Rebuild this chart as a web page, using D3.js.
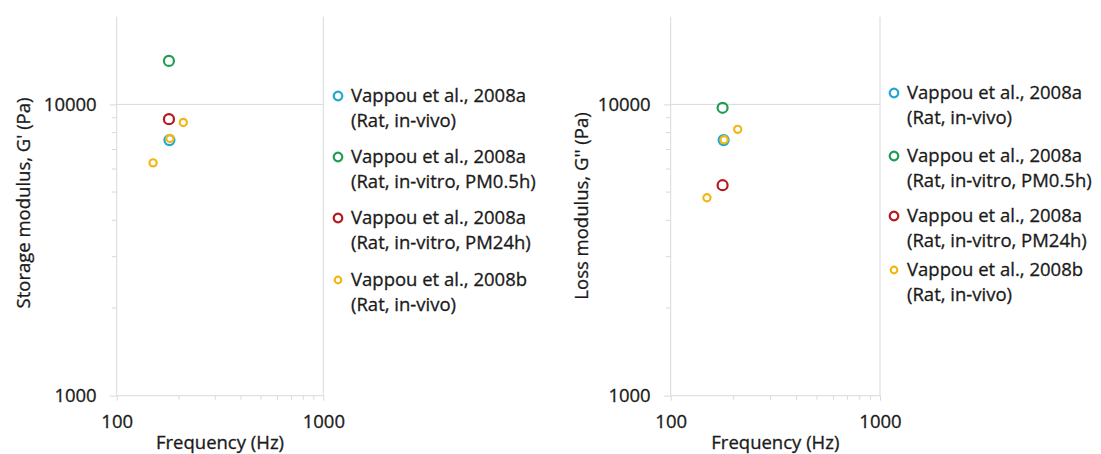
<!DOCTYPE html>
<html>
<head>
<meta charset="utf-8">
<script src="https://cdn.jsdelivr.net/npm/d3@7"></script>
<style>
    body { margin: 0; background: #fff; }
    svg text { font-family: 'Open Sans', sans-serif; fill: #1a1a1a; stroke: #1a1a1a; stroke-width: 0.3px; }
</style>
</head>
<body>
<div class="chart"></div>
<script>
const seriesLabels = [
    ['Vappou et al., 2008a', '(Rat, in-vivo)'],
    ['Vappou et al., 2008a', '(Rat, in-vitro, PM0.5h)'],
    ['Vappou et al., 2008a', '(Rat, in-vitro, PM24h)'],
    ['Vappou et al., 2008b', '(Rat, in-vivo)']
];
const seriesColors = ['#22a7d3', '#1f9d55', '#b3191e', '#f2b717'];
const markerRadius = [5, 5, 5, 3.6];

// [frequency Hz, modulus Pa]
const storageInVivoA = [[180, 7540]];
const storageInVitro05 = [[179, 14100]];
const storageInVitro24 = [[179, 8900]];
const storageInVivoB = [[150, 6300], [181, 7640], [210, 8670]];

const lossInVivoA = [[179, 7540]];
const lossInVitro05 = [[177, 9735]];
const lossInVitro24 = [[177, 5280]];
const lossInVivoB = [[149, 4780], [180, 7560], [209, 8210]];

const xTicks = [100, 1000];
const yTicks = [1000, 10000];
const xMinor = [200, 300, 400, 500, 600, 700, 800, 900];
const yMinor = [2000, 3000, 4000, 5000, 6000, 7000, 8000, 9000];

const width = 1101;
const height = 454;
const gridColor = '#d9d9d9';
const fontSize = '18.5px';

const svg = d3.select('.chart')
    .append('svg')
    .attr('width', width)
    .attr('height', height);

function drawPanel(cfg) {
    const x = d3.scaleLog().domain([100, 1000]).range([cfg.left, cfg.right]);
    const y = d3.scaleLog().domain([1000, 20000]).range([395.7, 16.7]);
    const g = svg.append('g');

    // gridlines
    g.selectAll('.hgrid')
        .data([10000])
        .enter()
        .append('line')
        .attr('x1', cfg.left)
        .attr('x2', cfg.right)
        .attr('y1', d => y(d))
        .attr('y2', d => y(d))
        .attr('stroke', gridColor);

    g.append('line')
        .attr('x1', x(1000)).attr('x2', x(1000))
        .attr('y1', y(20000)).attr('y2', y(1000))
        .attr('stroke', gridColor);

    const yAxis = d3.axisLeft(y)
        .tickValues(yTicks)
        .tickFormat(d3.format('d'))
        .tickSize(7)
        .tickPadding(13);
    const yAx = g.append('g')
        .attr('transform', `translate(${cfg.left},0)`)
        .call(yAxis);

    const xAxis = d3.axisBottom(x)
        .tickValues(xTicks)
        .tickFormat(d3.format('d'))
        .tickSize(5)
        .tickPadding(14);
    const xAx = g.append('g')
        .attr('transform', `translate(0,${y(1000)})`)
        .call(xAxis);

    [yAx, xAx].forEach(ax => {
        ax.select('.domain').attr('stroke', gridColor);
        ax.selectAll('.tick line').attr('stroke', gridColor);
        ax.selectAll('.tick text')
            .attr('fill', '#1a1a1a')
            .style('font-size', fontSize)
            .style('font-family', "'Open Sans', sans-serif");
    });
    yAx.select('.domain').attr('d', `M0,${y(20000)}V${y(1000)}`);
    xAx.select('.domain').attr('d', `M${cfg.left},0H${cfg.right}`);

    g.selectAll('.yminor')
        .data(yMinor)
        .enter()
        .append('line')
        .attr('x1', cfg.left - 5)
        .attr('x2', cfg.left)
        .attr('y1', d => y(d))
        .attr('y2', d => y(d))
        .attr('stroke', gridColor);

    g.selectAll('.xminor')
        .data(xMinor)
        .enter()
        .append('line')
        .attr('x1', d => x(d))
        .attr('x2', d => x(d))
        .attr('y1', y(1000))
        .attr('y2', y(1000) + 4)
        .attr('stroke', gridColor);

    // axis titles
    g.append('text')
        .attr('x', (cfg.left + cfg.right) / 2)
        .attr('y', 448.5)
        .attr('text-anchor', 'middle')
        .style('font-size', fontSize)
        .text('Frequency (Hz)');

    g.append('text')
        .attr('transform', `translate(${cfg.yLabelX},${cfg.yLabelY}) rotate(-90)`)
        .attr('text-anchor', 'middle')
        .attr('dy', '0.35em')
        .style('font-size', fontSize)
        .text(cfg.yLabel);

    // points
    cfg.series.forEach((pts, i) => {
        g.selectAll(`.s${i}`)
            .data(pts)
            .enter()
            .append('circle')
            .attr('cx', d => x(d[0]))
            .attr('cy', d => y(d[1]))
            .attr('r', markerRadius[i])
            .attr('fill', 'none')
            .attr('stroke', seriesColors[i])
            .attr('stroke-width', 2.2);
    });

    // legend
    const leg = g.append('g')
        .selectAll('g')
        .data(seriesLabels)
        .enter()
        .append('g')
        .attr('transform', (d, i) => `translate(${cfg.legendX},${cfg.legendY[i]})`);

    leg.append('circle')
        .attr('cx', 0)
        .attr('cy', 0)
        .attr('r', (d, i) => i === 3 ? 3.3 : 4.3)
        .attr('fill', 'none')
        .attr('stroke', (d, i) => seriesColors[i])
        .attr('stroke-width', 2.2);

    const txt = leg.append('text')
        .attr('x', 13)
        .attr('y', 0)
        .style('font-size', fontSize);
    txt.append('tspan')
        .attr('x', 13)
        .attr('dy', '0.35em')
        .text(d => d[0]);
    txt.append('tspan')
        .attr('x', 13)
        .attr('dy', '1.35em')
        .text(d => d[1]);
}

drawPanel({
    left: 116.7,
    right: 323.3,
    yLabelX: 24,
    yLabelY: 203,
    yLabel: "Storage modulus, G' (Pa)",
    legendX: 338,
    legendY: [96, 157, 218, 280],
    series: [storageInVivoA, storageInVitro05, storageInVitro24, storageInVivoB]
});

drawPanel({
    left: 670.7,
    right: 880,
    yLabelX: 582,
    yLabelY: 206,
    yLabel: "Loss modulus, G'' (Pa)",
    legendX: 894,
    legendY: [93, 156, 216, 270],
    series: [lossInVivoA, lossInVitro05, lossInVitro24, lossInVivoB]
});
</script>
</body>
</html>
